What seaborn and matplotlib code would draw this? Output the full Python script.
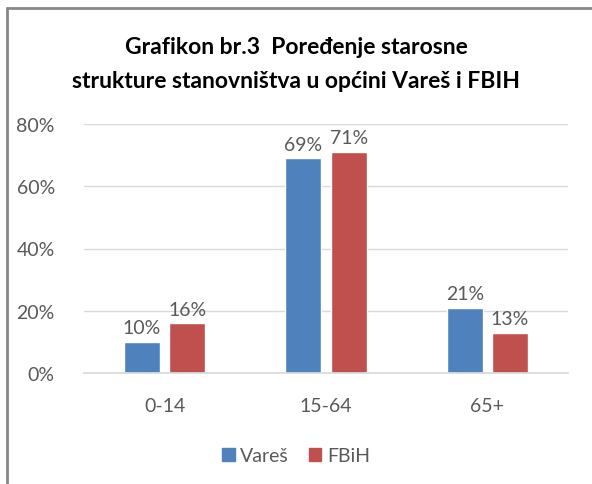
import matplotlib
matplotlib.use("Agg")
import matplotlib.pyplot as plt
import seaborn as sns
import pandas as pd
from matplotlib.lines import Line2D
from matplotlib.patches import Patch

categories = ["0-14", "15-64", "65+"]
vares = [0.10, 0.69, 0.21]
fbih = [0.16, 0.71, 0.13]
series = ["Vareš", "FBiH"]
colors = ["#4F81BD", "#C0504D"]
yticks = [0, 0.2, 0.4, 0.6, 0.8]
title_lines = ["Grafikon br.3  Poređenje starosne",
               "strukture stanovništva u općini Vareš i FBIH"]

df = pd.DataFrame({
    "cat": categories * 2,
    "val": vares + fbih,
    "series": [series[0]] * 3 + [series[1]] * 3,
})

sns.set_theme(style="white")
plt.rcParams["font.family"] = ["Lato", "DejaVu Sans"]

fig = plt.figure(figsize=(5.92, 4.85), dpi=100)
ax = fig.add_axes([84 / 592, 1 - 374 / 485, 484 / 592, 249 / 485])

sns.barplot(data=df, x="cat", y="val", hue="series", palette=colors,
            width=0.56, gap=0.2, ax=ax, legend=False, saturation=1)

ax.set_ylim(0, 0.8)
ax.set_xlim(-0.5, 2.5)
ax.set_yticks(yticks)
ax.set_yticklabels([f"{int(round(t*100))}%" for t in yticks])
ax.yaxis.grid(True, color="#D9D9D9", linewidth=1)
ax.set_axisbelow(True)
for s in ["top", "right", "left"]:
    ax.spines[s].set_visible(False)
ax.spines["bottom"].set_color("#D9D9D9")
ax.tick_params(axis="both", colors="#595959", labelsize=14, length=0)
ax.tick_params(axis="y", pad=21)
ax.tick_params(axis="x", pad=17)
ax.set_xlabel("")
ax.set_ylabel("")

for cont in ax.containers:
    ax.bar_label(cont, labels=[f"{int(round(v*100))}%" for v in cont.datavalues],
                 padding=4, color="#595959", fontsize=14)

for txt, ypix in zip(title_lines, [47, 82]):
    fig.text(0.5, 1 - ypix / 485, txt, ha="center", va="center",
             fontsize=16.5, fontweight="bold", color="#000000")

handles = [Patch(color=c, label=l) for c, l in zip(colors, series)]
fig.legend(handles=handles, loc="center", bbox_to_anchor=(0.5, 1 - 457 / 485),
           ncol=2, frameon=False, fontsize=14, handlelength=0.65, handleheight=0.65,
           handletextpad=0.3, columnspacing=1.0, labelcolor="#595959")

fig.add_artist(Line2D([7 / 592, 7 / 592], [0, 1 - 9 / 485], transform=fig.transFigure,
                      color="#888888", linewidth=2))
fig.add_artist(Line2D([7 / 592, 1], [1 - 9 / 485, 1 - 9 / 485], transform=fig.transFigure,
                      color="#888888", linewidth=2))

fig.savefig("out.png", dpi=100, facecolor="white")
